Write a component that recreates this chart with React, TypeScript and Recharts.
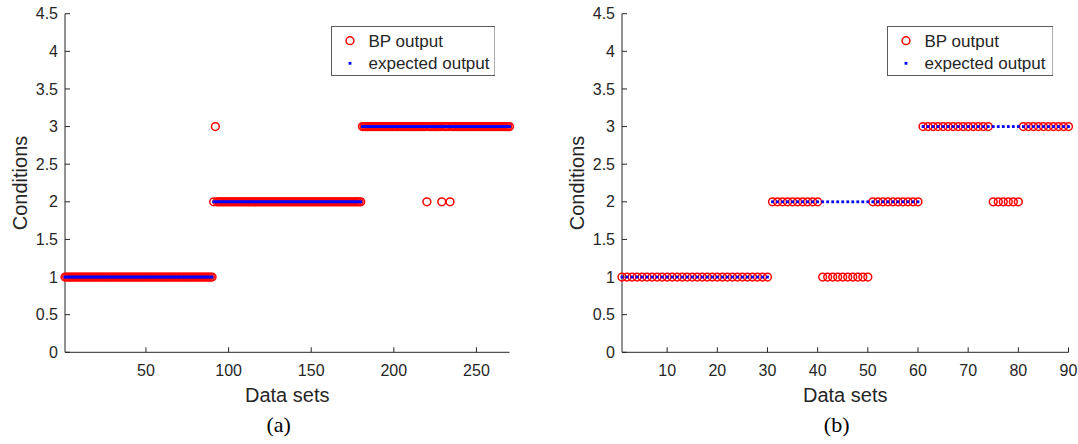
import React from "react";
import { Legend, Scatter, ScatterChart, XAxis, YAxis } from "recharts";

// Shared axis ticks
const Y_TICKS = [0, 0.5, 1, 1.5, 2, 2.5, 3, 3.5, 4, 4.5];
const LEFT_X_TICKS = [50, 100, 150, 200, 250];
const RIGHT_X_TICKS = [10, 20, 30, 40, 50, 60, 70, 80, 90];

const SERIES_NAMES = ["BP output", "expected output"];

// (a) 270 data sets, one value per data set
const leftExpected = [
  1, 1, 1, 1, 1, 1, 1, 1, 1, 1, 1, 1, 1, 1, 1, 1, 1, 1, 1, 1, 1, 1, 1, 1, 1, 1, 1, 1, 1, 1,
  1, 1, 1, 1, 1, 1, 1, 1, 1, 1, 1, 1, 1, 1, 1, 1, 1, 1, 1, 1, 1, 1, 1, 1, 1, 1, 1, 1, 1, 1,
  1, 1, 1, 1, 1, 1, 1, 1, 1, 1, 1, 1, 1, 1, 1, 1, 1, 1, 1, 1, 1, 1, 1, 1, 1, 1, 1, 1, 1, 1,
  2, 2, 2, 2, 2, 2, 2, 2, 2, 2, 2, 2, 2, 2, 2, 2, 2, 2, 2, 2, 2, 2, 2, 2, 2, 2, 2, 2, 2, 2,
  2, 2, 2, 2, 2, 2, 2, 2, 2, 2, 2, 2, 2, 2, 2, 2, 2, 2, 2, 2, 2, 2, 2, 2, 2, 2, 2, 2, 2, 2,
  2, 2, 2, 2, 2, 2, 2, 2, 2, 2, 2, 2, 2, 2, 2, 2, 2, 2, 2, 2, 2, 2, 2, 2, 2, 2, 2, 2, 2, 2,
  3, 3, 3, 3, 3, 3, 3, 3, 3, 3, 3, 3, 3, 3, 3, 3, 3, 3, 3, 3, 3, 3, 3, 3, 3, 3, 3, 3, 3, 3,
  3, 3, 3, 3, 3, 3, 3, 3, 3, 3, 3, 3, 3, 3, 3, 3, 3, 3, 3, 3, 3, 3, 3, 3, 3, 3, 3, 3, 3, 3,
  3, 3, 3, 3, 3, 3, 3, 3, 3, 3, 3, 3, 3, 3, 3, 3, 3, 3, 3, 3, 3, 3, 3, 3, 3, 3, 3, 3, 3, 3,
];

const leftBp = [
  1, 1, 1, 1, 1, 1, 1, 1, 1, 1, 1, 1, 1, 1, 1, 1, 1, 1, 1, 1, 1, 1, 1, 1, 1, 1, 1, 1, 1, 1,
  1, 1, 1, 1, 1, 1, 1, 1, 1, 1, 1, 1, 1, 1, 1, 1, 1, 1, 1, 1, 1, 1, 1, 1, 1, 1, 1, 1, 1, 1,
  1, 1, 1, 1, 1, 1, 1, 1, 1, 1, 1, 1, 1, 1, 1, 1, 1, 1, 1, 1, 1, 1, 1, 1, 1, 1, 1, 1, 1, 1,
  2, 3, 2, 2, 2, 2, 2, 2, 2, 2, 2, 2, 2, 2, 2, 2, 2, 2, 2, 2, 2, 2, 2, 2, 2, 2, 2, 2, 2, 2,
  2, 2, 2, 2, 2, 2, 2, 2, 2, 2, 2, 2, 2, 2, 2, 2, 2, 2, 2, 2, 2, 2, 2, 2, 2, 2, 2, 2, 2, 2,
  2, 2, 2, 2, 2, 2, 2, 2, 2, 2, 2, 2, 2, 2, 2, 2, 2, 2, 2, 2, 2, 2, 2, 2, 2, 2, 2, 2, 2, 2,
  3, 3, 3, 3, 3, 3, 3, 3, 3, 3, 3, 3, 3, 3, 3, 3, 3, 3, 3, 3, 3, 3, 3, 3, 3, 3, 3, 3, 3, 3,
  3, 3, 3, 3, 3, 3, 3, 3, 3, 2, 3, 3, 3, 3, 3, 3, 3, 3, 2, 3, 3, 3, 3, 2, 3, 3, 3, 3, 3, 3,
  3, 3, 3, 3, 3, 3, 3, 3, 3, 3, 3, 3, 3, 3, 3, 3, 3, 3, 3, 3, 3, 3, 3, 3, 3, 3, 3, 3, 3, 3,
];

// (b) 90 data sets
const rightExpected = [
  1, 1, 1, 1, 1, 1, 1, 1, 1, 1, 1, 1, 1, 1, 1, 1, 1, 1, 1, 1, 1, 1, 1, 1, 1, 1, 1, 1, 1, 1,
  2, 2, 2, 2, 2, 2, 2, 2, 2, 2, 2, 2, 2, 2, 2, 2, 2, 2, 2, 2, 2, 2, 2, 2, 2, 2, 2, 2, 2, 2,
  3, 3, 3, 3, 3, 3, 3, 3, 3, 3, 3, 3, 3, 3, 3, 3, 3, 3, 3, 3, 3, 3, 3, 3, 3, 3, 3, 3, 3, 3,
];

const rightBp = [
  1, 1, 1, 1, 1, 1, 1, 1, 1, 1, 1, 1, 1, 1, 1, 1, 1, 1, 1, 1, 1, 1, 1, 1, 1, 1, 1, 1, 1, 1,
  2, 2, 2, 2, 2, 2, 2, 2, 2, 2, 1, 1, 1, 1, 1, 1, 1, 1, 1, 1, 2, 2, 2, 2, 2, 2, 2, 2, 2, 2,
  3, 3, 3, 3, 3, 3, 3, 3, 3, 3, 3, 3, 3, 3, 2, 2, 2, 2, 2, 2, 3, 3, 3, 3, 3, 3, 3, 3, 3, 3,
];

const FONT = '"Liberation Sans", Arial, sans-serif';
const SERIF = '"Liberation Serif", "Times New Roman", serif';
const INK = "#262626";
const RED = "#ff0000";
const BLUE = "#0000ff";

const HEIGHT = 444;
const PLOT_TOP = 13.7;
const PLOT_BOTTOM = 352.3;

const TICK_STYLE = { fill: INK, fontSize: 16, fontFamily: FONT };

function RedCircle(props: any) {
  return (
    <circle
      cx={props.cx}
      cy={props.cy}
      r={3.9}
      fill="none"
      stroke={RED}
      strokeWidth={1.5}
    />
  );
}

// matlab '.' marker: a tiny filled square-ish dot
function BlueDot(props: any) {
  return (
    <rect
      x={props.cx - 1.4}
      y={props.cy - 1.4}
      width={2.8}
      height={2.8}
      fill={BLUE}
    />
  );
}

function LegendBox({ width }: { width: number }) {
  return (
    <svg width={width} height={51} style={{ display: "block" }}>
      <rect
        x={0.5}
        y={0.5}
        width={width - 1}
        height={49}
        fill="#ffffff"
        stroke="#5a5a5a"
      />
      <circle cx={19} cy={14.7} r={3.9} fill="none" stroke={RED} strokeWidth={1.5} />
      <rect x={17.6} y={35.9} width={2.8} height={2.8} fill={BLUE} />
      <text x={37.5} y={20.8} fontSize={17} fontFamily={FONT} fill={INK}>
        {SERIES_NAMES[0]}
      </text>
      <text x={37.5} y={43.4} fontSize={17} fontFamily={FONT} fill={INK}>
        {SERIES_NAMES[1]}
      </text>
    </svg>
  );
}

function Panel({
  width,
  plotLeft,
  plotRight,
  xMax,
  xTicks,
  bp,
  expected,
  caption,
  legendLeft,
  legendWidth,
}: {
  width: number;
  plotLeft: number;
  plotRight: number;
  xMax: number;
  xTicks: number[];
  bp: number[];
  expected: number[];
  caption: string;
  legendLeft: number;
  legendWidth: number;
}) {
  const bpRows = bp.map((y, i) => ({ x: i + 1, y }));
  const expectedRows = expected.map((y, i) => ({ x: i + 1, y }));

  return (
    <ScatterChart
      width={width}
      height={HEIGHT}
      margin={{ top: PLOT_TOP, right: width - plotRight, bottom: 0, left: 0 }}
    >
      <XAxis
        xAxisId="bottom"
        dataKey="x"
        type="number"
        domain={[1, xMax]}
        ticks={xTicks}
        interval={0}
        height={HEIGHT - PLOT_BOTTOM}
        tickSize={-5}
        tickMargin={17}
        axisLine={{ stroke: INK }}
        tickLine={{ stroke: INK }}
        tick={TICK_STYLE}
        label={{
          content: (p: any) => {
            const vb = p.viewBox;
            const mid = vb.x + vb.width / 2;
            return (
              <g>
                <text
                  x={mid}
                  y={vb.y + 49.4}
                  textAnchor="middle"
                  fontSize={20}
                  fontFamily={FONT}
                  fill={INK}
                >
                  Data sets
                </text>
                <text
                  x={mid - 8.6}
                  y={vb.y + 80}
                  textAnchor="middle"
                  fontSize={22}
                  fontFamily={SERIF}
                  fill="#000000"
                >
                  {caption}
                </text>
              </g>
            );
          },
        }}
      />
      <XAxis
        xAxisId="top"
        orientation="top"
        type="number"
        domain={[1, xMax]}
        ticks={xTicks}
        interval={0}
        allowDataOverflow
        height={0}
        tickSize={-5}
        axisLine={{ stroke: INK }}
        tickLine={{ stroke: INK }}
        tick={false}
      />
      <YAxis
        yAxisId="left"
        dataKey="y"
        type="number"
        domain={[0, 4.5]}
        ticks={Y_TICKS}
        interval={0}
        width={plotLeft}
        tickSize={-5}
        tickMargin={12}
        axisLine={{ stroke: INK }}
        tickLine={{ stroke: INK }}
        tick={TICK_STYLE}
        label={{
          content: (p: any) => {
            const vb = p.viewBox;
            const bx = vb.x + vb.width - 38;
            const cy = vb.y + vb.height / 2;
            return (
              <text
                x={bx}
                y={cy}
                transform={`rotate(-90 ${bx} ${cy})`}
                textAnchor="middle"
                fontSize={20}
                fontFamily={FONT}
                fill={INK}
              >
                Conditions
              </text>
            );
          },
        }}
      />
      <YAxis
        yAxisId="right"
        orientation="right"
        type="number"
        domain={[0, 4.5]}
        ticks={Y_TICKS}
        interval={0}
        allowDataOverflow
        width={0}
        tickSize={-5}
        axisLine={{ stroke: INK }}
        tickLine={{ stroke: INK }}
        tick={false}
      />
      <Legend
        layout="horizontal"
        align="center"
        verticalAlign="middle"
        wrapperStyle={{ left: legendLeft, top: 26, width: legendWidth }}
        content={() => <LegendBox width={legendWidth} />}
      />
      <Scatter
        name={SERIES_NAMES[0]}
        xAxisId="bottom"
        yAxisId="left"
        data={bpRows}
        fill={RED}
        shape={RedCircle}
        isAnimationActive={false}
      />
      <Scatter
        name={SERIES_NAMES[1]}
        xAxisId="bottom"
        yAxisId="left"
        data={expectedRows}
        fill={BLUE}
        shape={BlueDot}
        isAnimationActive={false}
      />
    </ScatterChart>
  );
}

export default function App() {
  return (
    <div
      style={{
        width: 1078,
        height: HEIGHT,
        display: "flex",
        background: "#ffffff",
        fontFamily: FONT,
      }}
    >
      <style>{"body{margin:0}"}</style>
      <Panel
        width={540}
        plotLeft={65}
        plotRight={509.5}
        xMax={270}
        xTicks={LEFT_X_TICKS}
        bp={leftBp}
        expected={leftExpected}
        caption="(a)"
        legendLeft={330.7}
        legendWidth={164.5}
      />
      <Panel
        width={538}
        plotLeft={82}
        plotRight={528.5}
        xMax={90}
        xTicks={RIGHT_X_TICKS}
        bp={rightBp}
        expected={rightExpected}
        caption="(b)"
        legendLeft={346.7}
        legendWidth={166.5}
      />
    </div>
  );
}
